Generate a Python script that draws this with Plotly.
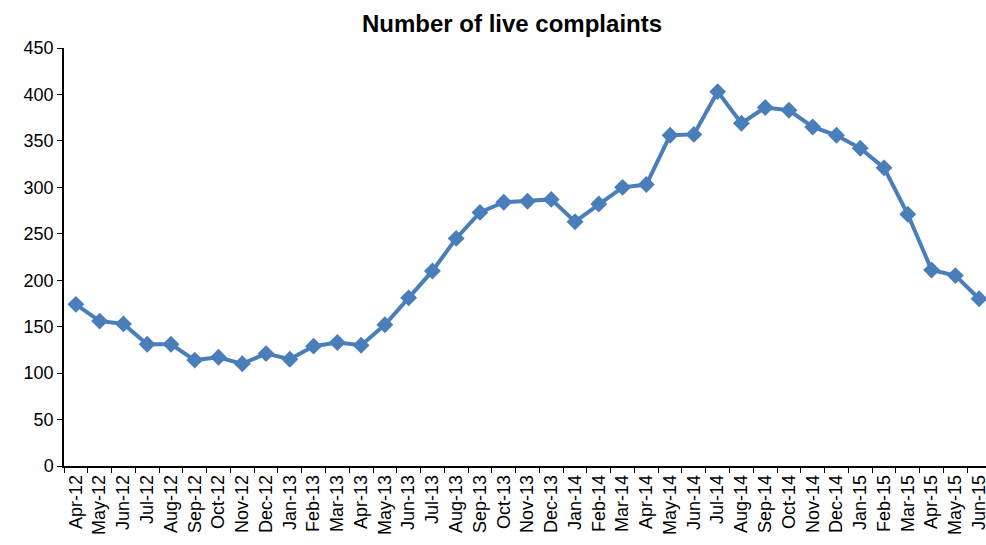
import plotly.graph_objects as go

months = ["Apr-12","May-12","Jun-12","Jul-12","Aug-12","Sep-12","Oct-12","Nov-12","Dec-12",
          "Jan-13","Feb-13","Mar-13","Apr-13","May-13","Jun-13","Jul-13","Aug-13","Sep-13","Oct-13","Nov-13","Dec-13",
          "Jan-14","Feb-14","Mar-14","Apr-14","May-14","Jun-14","Jul-14","Aug-14","Sep-14","Oct-14","Nov-14","Dec-14",
          "Jan-15","Feb-15","Mar-15","Apr-15","May-15","Jun-15"]
complaints = [174, 156, 153, 131, 131, 114, 117, 110, 121,
              115, 129, 133, 130, 152, 181, 210, 245, 273, 284, 285, 287,
              263, 282, 300, 303, 356, 357, 403, 369, 386, 383, 365, 356,
              342, 321, 271, 211, 205, 180]
y_ticks = [0, 50, 100, 150, 200, 250, 300, 350, 400, 450]

fig = go.Figure(go.Scatter(
    x=months, y=complaints, mode="lines+markers",
    line=dict(color="#4a7ebb", width=4),
    marker=dict(symbol="diamond", size=13, color="#4a7ebb"),
    cliponaxis=False,
    showlegend=False,
))

fig.update_layout(
    width=986, height=545,
    margin=dict(l=64, r=0, t=48, b=79),
    paper_bgcolor="white", plot_bgcolor="white",
    font=dict(family="Liberation Sans, Arial, sans-serif", color="black"),
    title=dict(text="<b>Number of live complaints</b>", x=0.5193, xanchor="center",
               y=1 - 24 / 545, yanchor="middle", font=dict(size=24, color="black")),
)
fig.update_xaxes(
    type="category", range=[-0.5, 38.29], tickangle=-90,
    tickson="boundaries", ticks="outside", ticklen=5, tickcolor="black",
    showline=True, linecolor="black", linewidth=1.5, showgrid=False,
    tickfont=dict(size=18), zeroline=False, automargin=False,
)
fig.update_yaxes(
    range=[0, 450], tickvals=y_ticks, ticks="outside", ticklen=5, tickcolor="black",
    showline=True, linecolor="black", linewidth=1.5, showgrid=False, zeroline=False,
    tickfont=dict(size=18), automargin=False,
)

fig.write_html("out.html", config={"displayModeBar": False},
               post_script="document.body.style.margin='0';document.body.style.overflow='hidden';")
